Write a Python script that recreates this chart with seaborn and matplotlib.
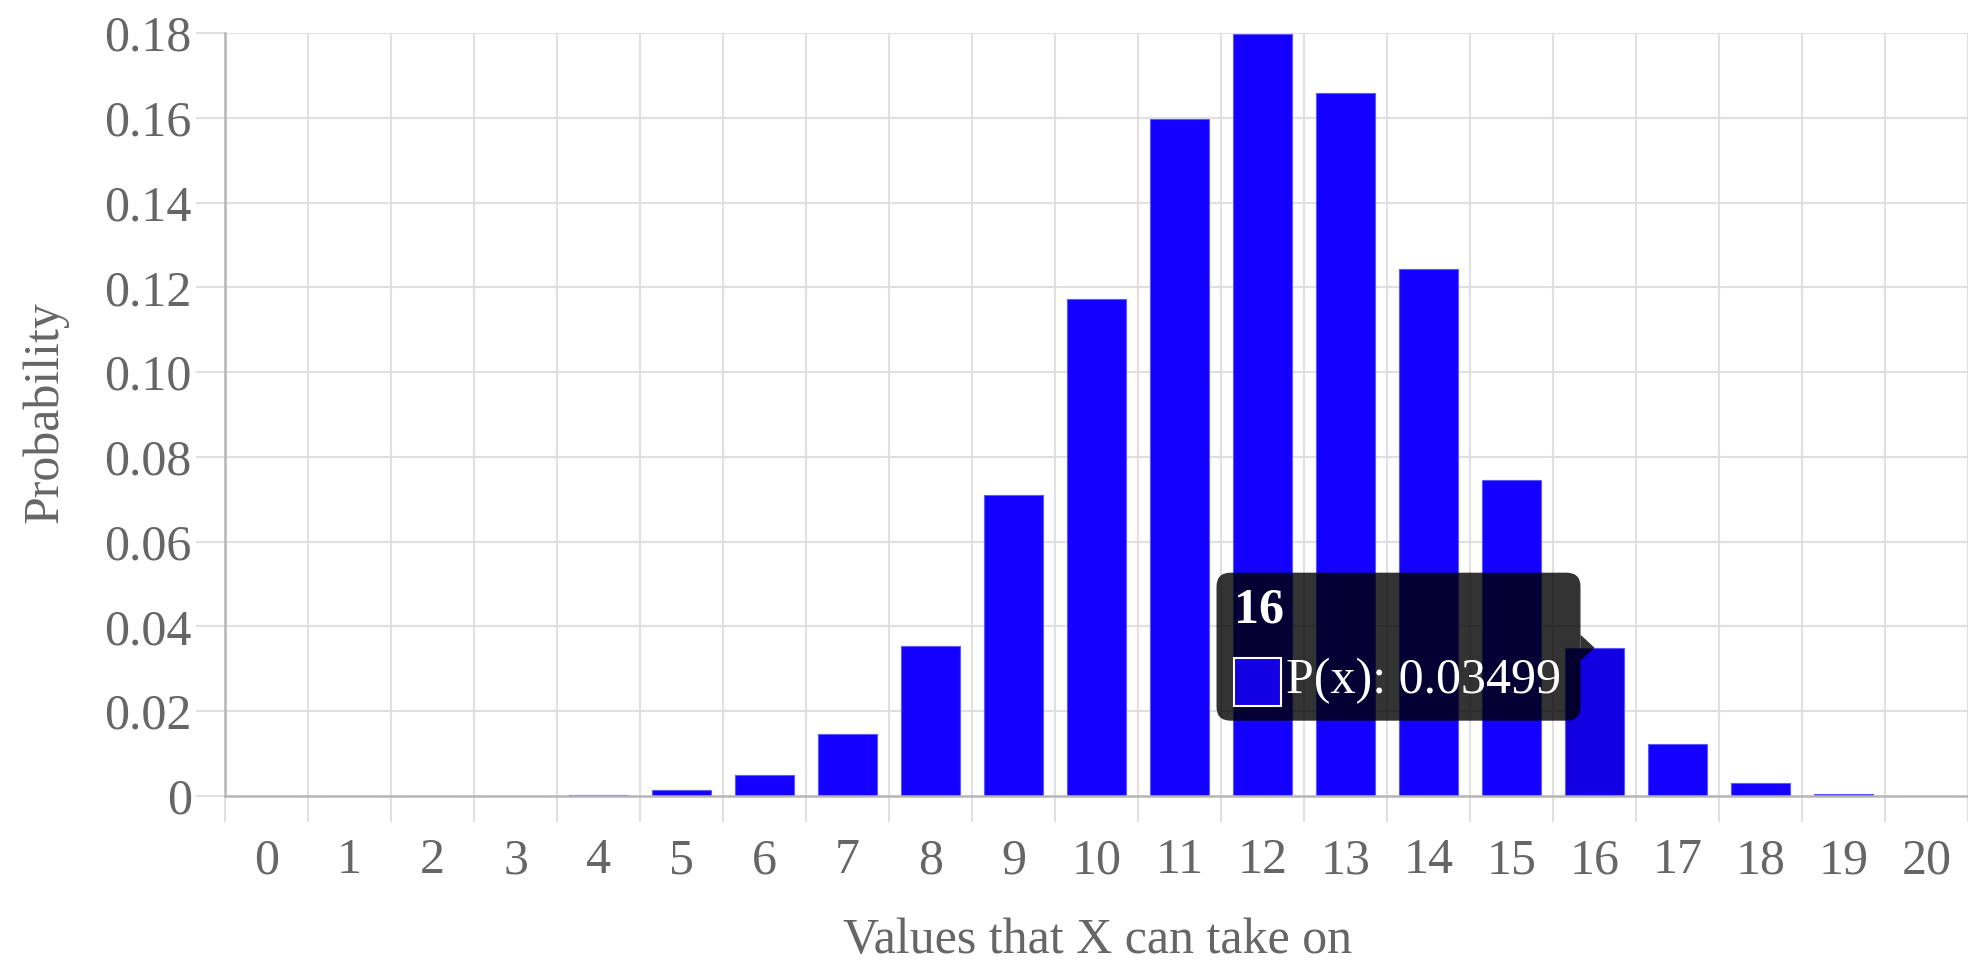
import numpy as np
import pandas as pd
import seaborn as sns
import matplotlib
matplotlib.use('Agg')
import matplotlib.pyplot as plt
from matplotlib.patches import FancyBboxPatch, Polygon, Rectangle

# 数据
x_values = [str(i) for i in range(21)]
probs = [0.0000000, 0.0000003, 0.0000047, 0.000042, 0.00027, 0.0013, 0.00485,
         0.01456, 0.03550, 0.07099, 0.11714, 0.15974, 0.17971, 0.16588,
         0.12441, 0.07465, 0.03499, 0.01235, 0.00309, 0.00049, 0.00004]
y_ticks = [0, 0.02, 0.04, 0.06, 0.08, 0.10, 0.12, 0.14, 0.16, 0.18]
y_ticklabels = ['0', '0.02', '0.04', '0.06', '0.08', '0.10', '0.12', '0.14', '0.16', '0.18']
hover_index = 16
tooltip_title = '16'
tooltip_text = 'P(x): 0.03499'

df = pd.DataFrame({'x': x_values, 'p': probs})

sns.set_theme(style='white')
plt.rcParams['font.family'] = ['Liberation Serif', 'DejaVu Serif']

text_col = '#666666'
grid_col = '#e0e0e0'
axis_col = '#b5b5b5'
bar_col = '#1400ff'
hover_col = '#1200e2'

W, H = 1968, 966
fig = plt.figure(figsize=(W / 100, H / 100), dpi=100)
ax = fig.add_axes([225 / W, 1 - 796 / H, (W - 225) / W, (796 - 33) / H])

palette = [hover_col if i == hover_index else bar_col for i in range(len(x_values))]
sns.barplot(data=df, x='x', y='p', hue='x', palette=palette, legend=False,
            width=0.72, saturation=1, ax=ax, zorder=3)
for bar in ax.patches:
    bar.set_edgecolor('#5a5aff')
    bar.set_linewidth(0.8)

ax.set_xlim(-0.5, 20.5)
ax.set_ylim(0, 0.18)

# 网格
ax.set_yticks(y_ticks)
ax.set_yticklabels(y_ticklabels)
ax.set_xticks(range(21))
ax.set_xticklabels(x_values)
ax.set_xticks(np.arange(-0.5, 21, 1), minor=True)
ax.grid(False)
for yv in y_ticks[1:]:
    ax.axhline(yv, color=grid_col, lw=1.5, zorder=1)
for xv in np.arange(0.5, 20.6, 1):
    ax.axvline(xv, color=grid_col, lw=1.5, zorder=1)

ax.tick_params(axis='x', which='both', bottom=True)
ax.tick_params(axis='y', which='both', left=True)
ax.tick_params(axis='x', which='major', length=0, pad=30, labelsize=36, labelcolor=text_col)
ax.tick_params(axis='x', which='minor', length=19, width=1.5, color=grid_col)
ax.tick_params(axis='y', which='major', length=21, width=1.5, color=grid_col, pad=3,
               labelsize=36, labelcolor=text_col)

for side in ['top', 'right']:
    ax.spines[side].set_visible(False)
for side in ['left', 'bottom']:
    ax.spines[side].set_color(axis_col)
    ax.spines[side].set_linewidth(1.8)
    ax.spines[side].set_zorder(4)

ax.set_xlabel('')
ax.set_ylabel('')
fig.text(1098 / W, 1 - 953 / H, 'Values that X can take on', ha='center', va='baseline',
         fontsize=36, color=text_col)
fig.text(45 / W, 1 - 412 / H, 'Probability', ha='center', va='center', rotation=90,
         fontsize=36, color=text_col)

# 提示框
fig.canvas.draw()
tip_x, tip_y = ax.transData.transform((hover_index, probs[hover_index]))
box_r = tip_x - 14
box_l = box_r - 364
box_t = tip_y + 75
box_b = box_t - 148
tip_box = FancyBboxPatch((box_l, box_b), box_r - box_l, box_t - box_b,
                         boxstyle='round,pad=0,rounding_size=14', transform=None,
                         facecolor='black', edgecolor='none', alpha=0.8, zorder=10)
fig.patches.append(tip_box)
caret = Polygon([(box_r, tip_y + 13), (tip_x, tip_y), (box_r, tip_y - 13)], closed=True,
                transform=None, facecolor='black', edgecolor='none', alpha=0.8, zorder=10)
fig.patches.append(caret)
swatch = Rectangle((box_l + 17, box_b + 15), 47, 48, transform=None, facecolor=hover_col,
                   edgecolor='white', lw=1.5, zorder=11)
fig.patches.append(swatch)
fig.text((box_l + 18) / W, (box_t - 38) / H, tooltip_title, ha='left', va='center',
         fontsize=36, fontweight='bold', color='white', zorder=12)
fig.text((box_l + 70) / W, (box_b + 40) / H, tooltip_text, ha='left', va='center',
         fontsize=36, color='white', zorder=12)

fig.savefig('out.png', dpi=100, facecolor='white')
